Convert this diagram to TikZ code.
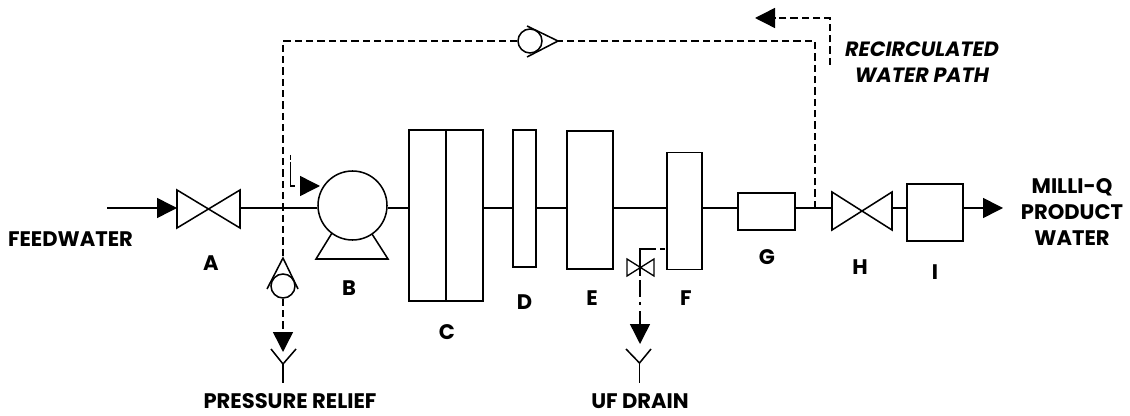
\documentclass[tikz,border=0pt]{standalone}
\usepackage{fontspec}
\setmainfont{Poppins}
\usetikzlibrary{arrows.meta}
\tikzset{
  x=0.75pt,y=-0.75pt,
  ln/.style={line width=1.15pt,line join=miter},
  dsh/.style={line width=1.1pt,dash pattern=on 5.5pt off 3pt},
  tip/.style={-{Triangle[length=15pt,width=15pt,fill=black]}},
  box/.style 2 args={draw,line width=1.15pt,fill=white,inner sep=0pt,minimum width=0.75pt*#1,minimum height=0.75pt*#2},
  lab/.style={font=\bfseries\fontsize{15.8}{19.5}\selectfont,inner sep=0pt,align=center,text=black},
  ilab/.style={font=\bfseries\itshape\fontsize{15.5}{19.5}\selectfont,inner sep=0pt,align=center,text=black}
}
\begin{document}
\begin{tikzpicture}
\useasboundingbox (0,0) rectangle (1130,416);
\coordinate (ml) at (0,208);
\coordinate (feed) at (107,208);
% equipment
\node[box={74}{171}] (C) at (446,215.5) {};
\node[box={23}{137}] (D) at (524.5,198.5) {};
\node[box={46}{138}] (E) at (590,200) {};
\node[box={35}{117}] (F) at (684.5,211) {};
\node[box={57}{37}] (G) at (766.5,211.5) {};
\node[box={56}{57}] (I) at (935,212.5) {};
\node[draw,circle,line width=1.15pt,inner sep=0pt,minimum size=0.75pt*69] (pump) at (352.5,205.5) {};
\draw[ln] (C.north) -- (C.south);
% pump feet
\draw[ln] (332,233) -- (316,259) -- (388,259) -- (372,234);
% valves
\coordinate (VF) at (640,267);
\draw[ln] (177,190) -- (240,228) -- (240,190) -- (177,228) -- cycle;
\draw[ln] (832,192) -- (892,230) -- (892,192) -- (832,230) -- cycle;
\draw[line width=1pt] (627,259) -- (654,276) -- (654,259) -- (627,276) -- cycle;
% main line
\coordinate (Aw) at (177,208);
\coordinate (Ae) at (240,208);
\coordinate (He) at (892,208);
\coordinate (Hw) at (832,208);
\coordinate (out) at (1003,208);
\draw[ln,tip] (feed) -- (Aw);
\draw[ln] (Ae) -- (ml -| pump.west);
\draw[ln] (ml -| pump.east) -- (ml -| C.west);
\draw[ln] (ml -| C.east) -- (ml -| D.west);
\draw[ln] (ml -| D.east) -- (ml -| E.west);
\draw[ln] (ml -| E.east) -- (ml -| F.west);
\draw[ln] (ml -| F.east) -- (ml -| G.west);
\draw[ln] (ml -| G.east) -- (Hw);
\draw[ln] (He) -- (ml -| I.west);
\draw[ln,tip] (ml -| I.east) -- (out);
% recirculation
\coordinate (rJ) at (815,208);
\coordinate (rC) at (815,41);
\coordinate (lC) at (283,41);
\coordinate (lV) at (283,258);
\node[draw,circle,line width=1.15pt,inner sep=0pt,minimum size=0.75pt*24] (chk1) at (530,41) {};
\coordinate (chk1tip) at (558,41);
\draw[ln] (527,26) -- (chk1tip) -- (527,57);
\draw[dsh] (rJ) -- (rC) -- (chk1tip);
\draw[dsh] (chk1) -- (lC) -- (lV);
% recirc legend arrow
\coordinate (a1) at (830,65);
\coordinate (a2) at (830,18);
\coordinate (a3) at (755,18);
\draw[dsh,tip] (a1) -- (a2) -- (a3);
% pump inlet arrow
\coordinate (b1) at (290.5,155);
\coordinate (b2) at (290.5,186);
\coordinate (b3) at (320,186);
\draw[line width=1.1pt,dash pattern=on 4pt off 1pt on 21.6pt off 4pt,tip] (b1) -- (b2) -- (b3);
% pressure relief
\node[draw,circle,line width=1.15pt,inner sep=0pt,minimum size=0.75pt*24] (chk2) at (283,286) {};
\draw[ln] (267,289) -- (lV) -- (298,289);
\coordinate (y1) at (283,364);
\coordinate (prtip) at (283,352);
\draw[dsh,tip] (chk2) -- (prtip);
\draw[ln] (271,349) -- (y1) -- (296,349);
\draw[ln] (y1) -- (283,383);
% UF drain
\coordinate (fd) at (665,249);
\coordinate (fc) at (640,249);
\coordinate (vb) at (640,280);
\coordinate (uftip) at (640,344);
\draw[line width=1.1pt,dash pattern=on 3.5pt off 3.5pt on 60pt] (fd) -- (fc) -- (VF) -- (640,276);
\draw[line width=1.1pt,dash pattern=on 12.75pt off 3.75pt on 2.25pt off 4.5pt on 40pt,tip] (vb) -- (uftip);
\coordinate (y2) at (639.5,363);
\draw[ln] (626,349) -- (y2) -- (651,349);
\draw[ln] (y2) -- (639.5,383);
% labels
\node[lab] (lFW) at (70.5,239) {FEEDWATER};
\node[lab] (lA) at (211,263) {A};
\node[lab] (lB) at (349,288) {B};
\node[lab] (lC2) at (447,332) {C};
\node[lab] (lD) at (524.5,302.5) {D};
\node[lab] (lE) at (592,298) {E};
\node[lab] (lF) at (686,298) {F};
\node[lab] (lG) at (767,257) {G};
\node[lab] (lH) at (860,267) {H};
\node[lab] (lI) at (935,272) {I};
\node[lab] (lPR) at (290,401) {PRESSURE RELIEF};
\node[lab] (lUF) at (640,401) {UF DRAIN};
\node[lab] (lMQ) at (1072,212) {MILLI-Q\\PRODUCT\\WATER};
\node[ilab] (lRW) at (922,62) {RECIRCULATED\\WATER PATH};
\end{tikzpicture}
\end{document}
